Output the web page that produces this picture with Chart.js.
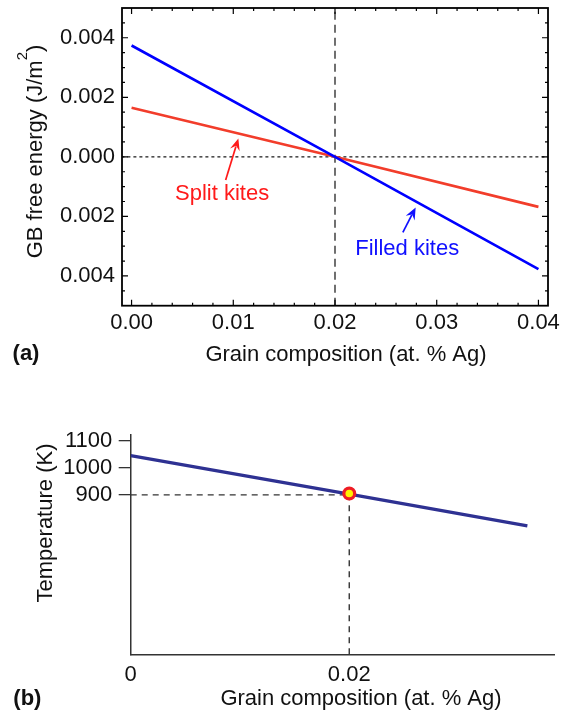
<!DOCTYPE html>
<html>
<head>
<meta charset="utf-8">
<script src="https://cdn.jsdelivr.net/npm/chart.js@4.4.1/dist/chart.umd.min.js"></script>
<style>
  html, body { margin: 0; padding: 0; background: #fff; }
  body { width: 573px; height: 714px; position: relative; overflow: hidden; }
  canvas { position: absolute; left: 0; }
  #chartA { top: 0; }
  #chartB { top: 420px; }
</style>
</head>
<body>
<canvas id="chartA" width="573" height="380"></canvas>
<canvas id="chartB" width="573" height="294"></canvas>
<script>
// (a) GB free energy vs grain composition
const compA = [0, 0.02, 0.04];
const filledKites = [0.00374, 0, -0.00377];
const splitKites = [0.00165, 0, -0.00168];
const xTicksA = [0, 0.01, 0.02, 0.03, 0.04];
const yTicksA = [0.004, 0.002, 0, -0.002, -0.004];
const crossA = 0.02;

// (b) temperature vs grain composition
const compB = [0, 0.02, 0.0363];
const tempB = [1045, 903, 785];
const markB = [{ x: 0.02, y: 905 }];
const refT = 900;
const xTicksB = [0, 0.02];
const xLabelsB = ['0', '0.02'];
const yTicksB = [900, 1000, 1100];

const FONT = "'Liberation Sans', Arial, sans-serif";
const INK = '#111';

const pts = (xs, ys) => xs.map((x, i) => ({ x: x, y: ys[i] }));

// drop the label overhang padding chart.js adds around each axis
const noPad = s => { s.paddingTop = 0; s.paddingBottom = 0; s.paddingLeft = 0; s.paddingRight = 0; };

// inward ticks + full frame for (a)
const frameTicks = {
  id: 'frameTicks',
  afterDatasetsDraw(chart) {
    const { ctx, chartArea: a, scales: { x, y } } = chart;
    ctx.save();
    ctx.strokeStyle = '#000';
    ctx.lineWidth = 1.2;
    ctx.beginPath();
    for (let i = 0; i <= 20; i++) {
      const px = x.getPixelForValue(i * 0.002);
      const len = i % 5 === 0 ? 6 : 3;
      ctx.moveTo(px, a.bottom); ctx.lineTo(px, a.bottom - len);
      ctx.moveTo(px, a.top); ctx.lineTo(px, a.top + len);
    }
    for (let i = -9; i <= 9; i++) {
      const py = y.getPixelForValue(i * 0.0005);
      const len = i % 4 === 0 ? 6 : 3;
      ctx.moveTo(a.left, py); ctx.lineTo(a.left + len, py);
      ctx.moveTo(a.right, py); ctx.lineTo(a.right - len, py);
    }
    ctx.stroke();
    ctx.lineWidth = 1.8;
    ctx.strokeRect(a.left, a.top, a.right - a.left, a.bottom - a.top);
    ctx.restore();
  }
};

// arrow notes for (a)
const notesA = [
  { text: 'Split kites', color: '#ff1a1a', at: [0.0089, -0.00125], tail: [0.00925, -0.00078], tip: [0.0105, 0.00062] },
  { text: 'Filled kites', color: '#1010ff', at: [0.0271, -0.0031], tail: [0.02667, -0.00254], tip: [0.02793, -0.0017] }
];

const arrowNotes = {
  id: 'arrowNotes',
  afterDatasetsDraw(chart) {
    const { ctx, scales: { x, y } } = chart;
    ctx.save();
    notesA.forEach(n => {
      const x1 = x.getPixelForValue(n.tail[0]), y1 = y.getPixelForValue(n.tail[1]);
      const x2 = x.getPixelForValue(n.tip[0]), y2 = y.getPixelForValue(n.tip[1]);
      const c = Math.cos(Math.atan2(y2 - y1, x2 - x1)), s = Math.sin(Math.atan2(y2 - y1, x2 - x1));
      const hl = 12, hw = 5;
      ctx.strokeStyle = n.color;
      ctx.fillStyle = n.color;
      ctx.lineWidth = 1.7;
      ctx.beginPath();
      ctx.moveTo(x1, y1);
      ctx.lineTo(x2 - hl * 0.7 * c, y2 - hl * 0.7 * s);
      ctx.stroke();
      ctx.beginPath();
      ctx.moveTo(x2, y2);
      ctx.lineTo(x2 - hl * c + hw * s, y2 - hl * s - hw * c);
      ctx.lineTo(x2 - hl * 0.65 * c, y2 - hl * 0.65 * s);
      ctx.lineTo(x2 - hl * c - hw * s, y2 - hl * s + hw * c);
      ctx.closePath();
      ctx.fill();
      ctx.font = '22px ' + FONT;
      ctx.textAlign = 'center';
      ctx.textBaseline = 'middle';
      ctx.fillText(n.text, x.getPixelForValue(n.at[0]), y.getPixelForValue(n.at[1]));
    });
    ctx.restore();
  }
};

// axis titles and panel letters; parts with sup are raised and smaller
function titles(list) {
  return {
    id: 'titles',
    afterDraw(chart) {
      const ctx = chart.ctx;
      ctx.save();
      ctx.fillStyle = INK;
      ctx.textBaseline = 'alphabetic';
      ctx.textAlign = 'left';
      list.forEach(t => {
        const parts = t.parts || [{ t: t.text }];
        const fontOf = p => (t.bold ? 'bold ' : '') + (p.sup ? '15px ' : '22px ') + FONT;
        let total = 0;
        parts.forEach(p => { ctx.font = fontOf(p); p.w = ctx.measureText(p.t).width; total += p.w; });
        ctx.save();
        ctx.translate(t.x, t.y);
        if (t.rot) ctx.rotate(-Math.PI / 2);
        let cx = -total / 2;
        parts.forEach(p => {
          ctx.font = fontOf(p);
          ctx.fillText(p.t, cx, p.sup ? -7.5 : 7.8);
          cx += p.w;
        });
        ctx.restore();
      });
      ctx.restore();
    }
  };
}

const tickFont = { family: FONT, size: 22 };

new Chart(document.getElementById('chartA'), {
  type: 'line',
  data: {
    datasets: [
      { data: pts(compA, filledKites), borderColor: '#0000ff', borderWidth: 2.6, pointRadius: 0 },
      { data: pts(compA, splitKites), borderColor: '#f23d2b', borderWidth: 2.6, pointRadius: 0 },
      { data: [{ x: crossA, y: -0.005 }, { x: crossA, y: 0.005 }], borderColor: '#222', borderWidth: 1.3, borderDash: [8, 5], pointRadius: 0 },
      { data: [{ x: -0.001, y: 0 }, { x: 0.041, y: 0 }], borderColor: '#333', borderWidth: 1.4, borderDash: [3, 3], pointRadius: 0 }
    ]
  },
  options: {
    responsive: false,
    devicePixelRatio: 1,
    animation: false,
    layout: { padding: { top: 8, right: 25, left: 0, bottom: 0 } },
    plugins: { legend: { display: false }, tooltip: { enabled: false } },
    scales: {
      x: {
        type: 'linear', min: -0.00094, max: 0.04094,
        grid: { display: false, drawTicks: false },
        border: { display: false },
        afterBuildTicks: s => { s.ticks = xTicksA.map(v => ({ value: v })); },
        afterFit: s => { s.height = 74.3; noPad(s); },
        ticks: { font: tickFont, color: INK, padding: 4, autoSkip: false, maxRotation: 0,
          callback: v => Number(v).toFixed(2) }
      },
      y: {
        type: 'linear', min: -0.005, max: 0.005,
        grid: { display: false, drawTicks: false },
        border: { display: false },
        afterBuildTicks: s => { s.ticks = yTicksA.map(v => ({ value: v })); },
        afterFit: s => { s.width = 122; noPad(s); },
        ticks: { font: tickFont, color: INK, padding: 7, autoSkip: false,
          callback: v => Math.abs(v).toFixed(3) }
      }
    }
  },
  plugins: [frameTicks, arrowNotes, titles([
    { parts: [{ t: 'GB free energy (J/m' }, { t: '2', sup: true }, { t: ')' }], x: 34.6, y: 151.5, rot: true },
    { text: 'Grain composition (at. % Ag)', x: 346, y: 353 },
    { text: '(a)', x: 26, y: 352, bold: true }
  ])]
});

new Chart(document.getElementById('chartB'), {
  type: 'line',
  data: {
    datasets: [
      { data: markB, borderColor: '#ee1c25', backgroundColor: '#fff200', borderWidth: 3.2, pointRadius: 5.4, showLine: false },
      { data: pts(compB, tempB), borderColor: '#2e3192', borderWidth: 3.3, pointRadius: 0 },
      { data: [{ x: 0, y: refT }, { x: markB[0].x, y: refT }], borderColor: '#333', borderWidth: 1.4, borderDash: [6, 5], pointRadius: 0 },
      { data: [{ x: markB[0].x, y: 311 }, { x: markB[0].x, y: markB[0].y }], borderColor: '#333', borderWidth: 1.4, borderDash: [6, 5], pointRadius: 0 }
    ]
  },
  options: {
    responsive: false,
    devicePixelRatio: 1,
    animation: false,
    layout: { padding: { top: 15, right: 18.3, left: 0, bottom: 0 } },
    plugins: { legend: { display: false }, tooltip: { enabled: false } },
    scales: {
      x: {
        type: 'linear', min: 0, max: 0.0388,
        grid: { display: false, drawTicks: false },
        border: { display: true, color: '#333', width: 1.5 },
        afterBuildTicks: s => { s.ticks = xTicksB.map(v => ({ value: v })); },
        afterFit: s => { s.height = 59.7; noPad(s); },
        ticks: { font: tickFont, color: INK, padding: 7, autoSkip: false, maxRotation: 0,
          callback: (v, i) => xLabelsB[i] }
      },
      y: {
        type: 'linear', min: 311, max: 1121,
        grid: { display: true, drawOnChartArea: false, drawTicks: true, tickLength: 12, color: '#333', lineWidth: 1.3 },
        border: { display: true, color: '#333', width: 1.5 },
        afterBuildTicks: s => { s.ticks = yTicksB.map(v => ({ value: v })); },
        afterFit: s => { s.width = 130.7; noPad(s); },
        ticks: { font: tickFont, color: INK, padding: 6.4, autoSkip: false,
          callback: v => String(v) }
      }
    }
  },
  plugins: [titles([
    { text: 'Temperature (K)', x: 44, y: 103, rot: true },
    { text: 'Grain composition (at. % Ag)', x: 361, y: 277 },
    { text: '(b)', x: 27.4, y: 276.7, bold: true }
  ])]
});
</script>
</body>
</html>
